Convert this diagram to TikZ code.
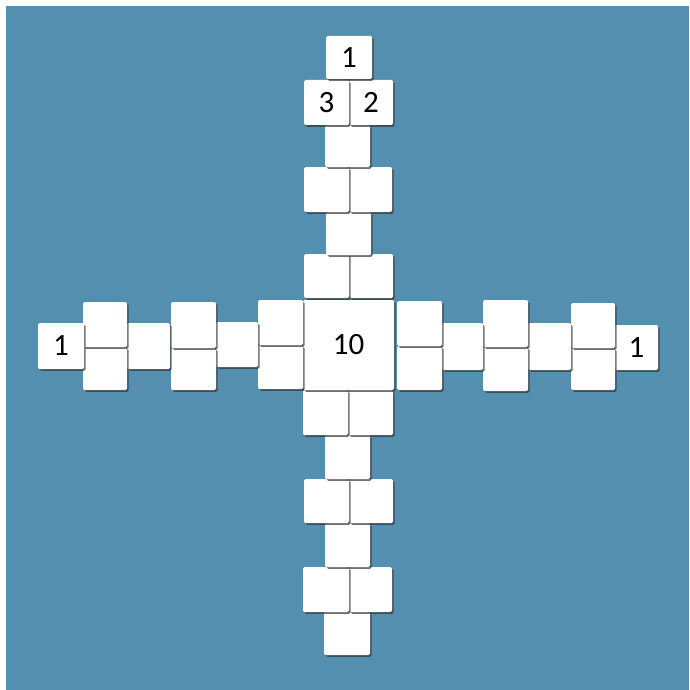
\documentclass[tikz,border=0pt]{standalone}
\usepackage{fontspec}
\setmainfont{Carlito}
\usetikzlibrary{shadows}
\definecolor{bgblue}{RGB}{84,143,175}
\tikzset{
  tile/.style={fill=white, rounded corners=1.5pt, inner sep=0pt, draw=none,
    drop shadow={shadow xshift=1.6pt, shadow yshift=-1.8pt, fill=black!80, opacity=0.7},
    font=\fontsize{31}{31}\selectfont, text=black}
}
\newcommand\mytile[6]{%
  \node[tile, minimum width={#4pt-#2pt}, minimum height={#5pt-#3pt}] (#1) at ({(#2+#4)/2},{(#3+#5)/2}) {#6};}
\begin{document}
\begin{tikzpicture}[x=1pt,y=-1pt]
\useasboundingbox (0,0) rectangle (689,690);
\fill[white] (0,0) rectangle (689,690);
\fill[bgblue] (6,6) rectangle (689,690);
% bottom arm (bottom first)
\mytile{bs3}{324}{612}{370}{655}{}
\mytile{bp3b}{349}{567}{392}{612}{}
\mytile{bp3a}{303}{567}{349}{612}{}
\mytile{bs2}{325}{523}{370}{567}{}
\mytile{bp2b}{349}{479}{393}{523}{}
\mytile{bp2a}{304}{479}{349}{523}{}
\mytile{bs1}{325}{435}{370}{479}{}
\mytile{bp1b}{348}{390}{393}{435}{}
\mytile{bp1a}{303}{390}{348}{435}{}
% right arm
\mytile{r1}{615}{325}{658}{370}{1}
\mytile{rp3b}{571}{348}{615}{390}{}
\mytile{rp3a}{571}{303}{615}{348}{}
\mytile{rs2}{528}{323}{571}{370}{}
\mytile{rp2b}{483}{347}{528}{391}{}
\mytile{rp2a}{483}{300}{528}{347}{}
\mytile{rs1}{442}{323}{483}{370}{}
\mytile{rp1b}{397}{346}{442}{390}{}
\mytile{rp1a}{397}{301}{442}{346}{}
% center
\mytile{c}{303}{300}{394}{390}{10}
% left arm
\mytile{lp3b}{258}{345}{303}{389}{}
\mytile{lp3a}{258}{300}{303}{345}{}
\mytile{ls2}{216}{322}{258}{367}{}
\mytile{lp2b}{171}{348}{216}{390}{}
\mytile{lp2a}{171}{302}{216}{348}{}
\mytile{ls1}{127}{323}{170}{369}{}
\mytile{lp1b}{83}{347}{127}{390}{}
\mytile{lp1a}{83}{302}{127}{347}{}
\mytile{l1}{38}{323}{84}{369}{1}
% top arm (bottom first)
\mytile{tp2b}{349}{254}{393}{298}{}
\mytile{tp2a}{304}{254}{349}{298}{}
\mytile{ts2}{326}{212}{371}{255}{}
\mytile{tp1b}{349}{167}{392}{212}{}
\mytile{tp1a}{304}{167}{349}{212}{}
\mytile{ts1}{325}{125}{370}{167}{}
\mytile{t2}{349}{80}{393}{125}{2}
\mytile{t3}{304}{80}{349}{125}{3}
\mytile{t1}{326}{36}{372}{79}{1}
\end{tikzpicture}
\end{document}
